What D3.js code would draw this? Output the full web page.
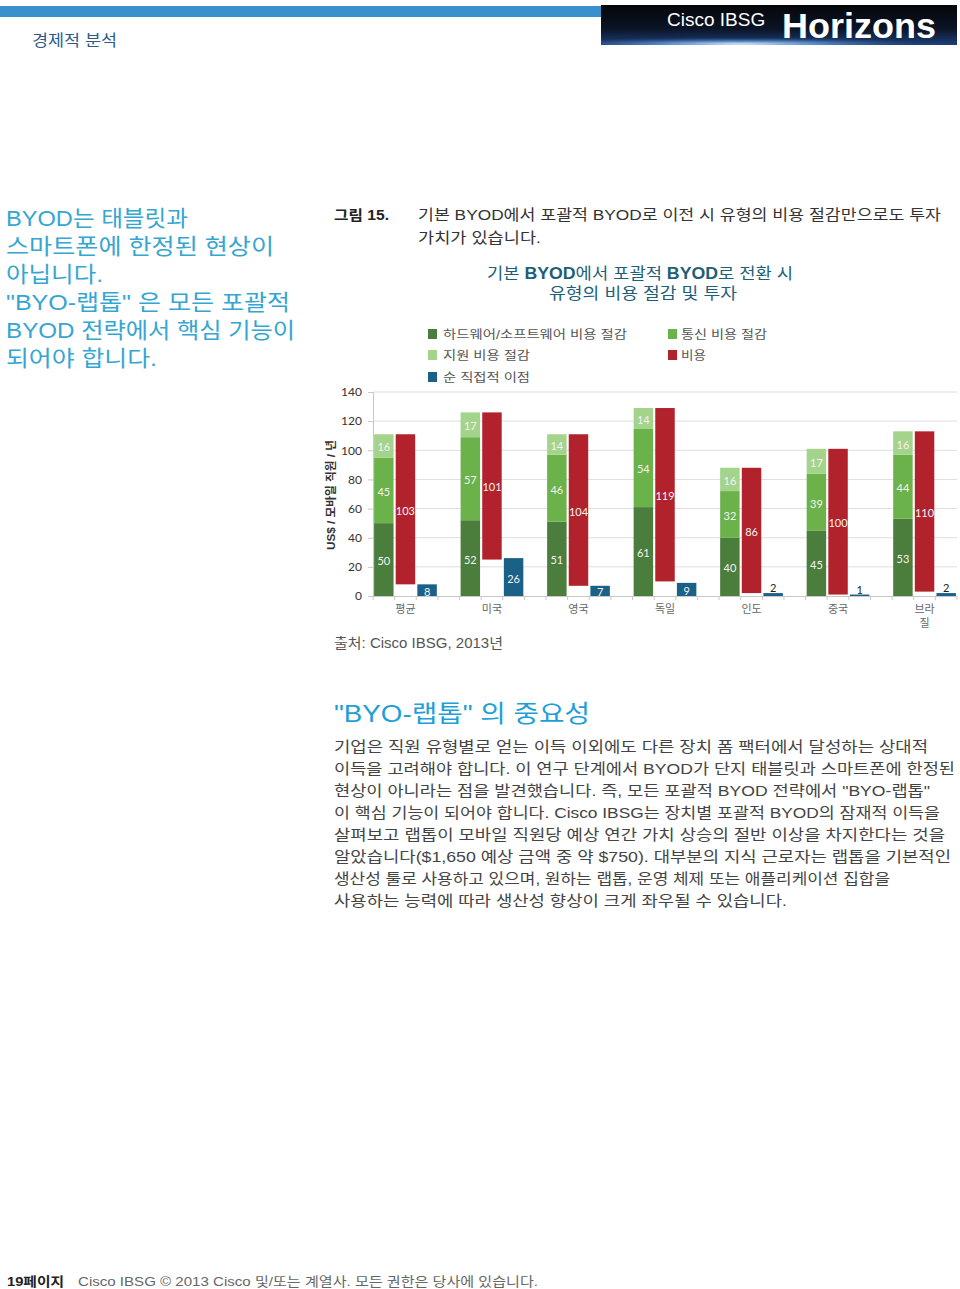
<!DOCTYPE html>
<html><head><meta charset="utf-8">
<script src="https://cdn.jsdelivr.net/npm/d3@7"></script>
<style>
html,body{margin:0;padding:0;background:#fff;}
svg{display:block;}
</style></head>
<body>
<script>
// ---------- DATA ----------
const categories = ["평균","미국","영국","독일","인도","중국","브라질"];
const hwSavings      = [50,52,51,61,40,45,53];
const commSavings    = [45,57,46,54,32,39,44];
const supportSavings = [16,17,14,14,16,17,16];
const costs          = [103,101,104,119,86,100,110];
const netBenefit     = [8,26,7,9,2,1,2];
const yTicks = [0,20,40,60,80,100,120,140];
const legendLabels = ["하드웨어/소프트웨어 비용 절감","통신 비용 절감","지원 비용 절감","비용","순 직접적 이점"];

const colors = {hw:"#4b7d3c", comm:"#6cb24a", sup:"#a4d38c", cost:"#b1222d", net:"#1b6087"};

const KR = "'Liberation Sans','Noto Sans CJK KR',sans-serif";
const CH = "Lato,'Noto Sans CJK KR',sans-serif";

const W=960,H=1289;
const svg = d3.select("body").append("svg").attr("width",W).attr("height",H);
const defs = svg.append("defs");

function txt(x,y,s,o={}){
  const t = svg.append("text").attr("x",x).attr("y",y).text(s)
    .attr("font-family",o.ff||KR).attr("font-size",o.fs||14)
    .attr("fill",o.fill||"#333").attr("font-weight",o.fw||"normal")
    .attr("text-anchor",o.anchor||"start");
  if(o.len){ t.attr("textLength",o.len).attr("lengthAdjust","spacingAndGlyphs"); }
  return t;
}

// ---------- HEADER ----------
svg.append("rect").attr("x",0).attr("y",6).attr("width",601).attr("height",11).attr("fill","#3a8fcd");
const lg = defs.append("linearGradient").attr("id","lg").attr("x1",0).attr("y1",0).attr("x2",0).attr("y2",1);
lg.append("stop").attr("offset","0").attr("stop-color","#050608");
lg.append("stop").attr("offset","0.6").attr("stop-color","#0b1426");
lg.append("stop").attr("offset","1").attr("stop-color","#1d3f78");
svg.append("rect").attr("x",601).attr("y",5).attr("width",356).attr("height",40).attr("fill","url(#lg)");
const rg = defs.append("radialGradient").attr("id","rg");
rg.append("stop").attr("offset","0").attr("stop-color","#e8f2ff").attr("stop-opacity",0.95);
rg.append("stop").attr("offset","0.4").attr("stop-color","#6fa7e8").attr("stop-opacity",0.7);
rg.append("stop").attr("offset","1").attr("stop-color","#1d3f78").attr("stop-opacity",0);
svg.append("clipPath").attr("id","lc").append("rect").attr("x",601).attr("y",5).attr("width",356).attr("height",40);
svg.append("ellipse").attr("cx",740).attr("cy",44).attr("rx",200).attr("ry",7).attr("fill","url(#rg)").attr("clip-path","url(#lc)");
txt(667,26,"Cisco IBSG",{ff:"'Liberation Sans',sans-serif",fs:19,fill:"#fff"});
txt(782,38,"Horizons",{ff:"'Liberation Sans',sans-serif",fs:35,fw:"bold",fill:"#fff",len:154});
txt(32,46,"경제적 분석",{fs:16,fill:"#2d5a86",len:85});

// ---------- SIDEBAR ----------
const side = [["BYOD는 태블릿과",182],["스마트폰에 한정된 현상이",268],["아닙니다.",97],["\"BYO-랩톱\" 은 모든 포괄적",284],["BYOD 전략에서 핵심 기능이",289],["되어야 합니다.",151]];
side.forEach((s,i)=>txt(6,226+i*28,s[0],{fs:22,fill:"#35a6d2",len:s[1]}));

// ---------- CAPTION ----------
txt(334,220,"그림 15.",{fs:14,fill:"#222",fw:"bold",len:55});
txt(418,220,"기본 BYOD에서 포괄적 BYOD로 이전 시 유형의 비용 절감만으로도 투자",{fs:15,fill:"#333",len:523});
txt(418,243,"가치가 있습니다.",{fs:15,fill:"#333",len:123});

// ---------- CHART TITLE ----------
const tc="#1d5f78";
const t1 = svg.append("text").attr("x",640).attr("y",279).attr("text-anchor","middle")
  .attr("font-family",KR).attr("font-size",16).attr("fill",tc).attr("textLength",306).attr("lengthAdjust","spacingAndGlyphs");
t1.append("tspan").text("기본 ");
t1.append("tspan").attr("font-weight","bold").text("BYOD");
t1.append("tspan").text("에서 포괄적 ");
t1.append("tspan").attr("font-weight","bold").text("BYOD");
t1.append("tspan").text("로 전환 시");
txt(643,299,"유형의 비용 절감 및 투자",{fs:16,fill:tc,anchor:"middle",len:188});

// ---------- LEGEND ----------
const legendPos = [[428,334,colors.hw,184],[668,334,colors.comm,86],[428,355,colors.sup,87],[668,355,colors.cost,25],[428,377,colors.net,87]];
legendPos.forEach((p,i)=>{
  svg.append("rect").attr("x",p[0]).attr("y",p[1]-5).attr("width",9).attr("height",10).attr("fill",p[2]);
  txt(p[0]+(p[0]<600?15:13),p[1]+5,legendLabels[i],{fs:12,fill:"#555",len:p[3]});
});

// ---------- PLOT ----------
const y = d3.scaleLinear().domain([0,140]).range([596,392]);
const nSlots = categories.length*4-1;
const x = d3.scaleBand().domain(d3.range(nSlots)).range([373,957]).paddingInner(0.1).paddingOuter(0.05);
const step = (957-373)/nSlots;

// gridlines
svg.append("g").selectAll("line").data(yTicks.filter(d=>d>0)).join("line")
  .attr("x1",373).attr("x2",957).attr("y1",d=>y(d)).attr("y2",d=>y(d))
  .attr("stroke","#dedede").attr("stroke-width",1);

// y axis
const yAxis = svg.append("g").attr("transform","translate(373,0)")
  .call(d3.axisLeft(y).tickValues(yTicks).tickSize(5).tickPadding(6));
yAxis.select(".domain").attr("stroke","#c8c8c8");
yAxis.selectAll(".tick line").attr("stroke","#c8c8c8");
yAxis.selectAll("text").attr("font-family",CH).attr("font-size",12).attr("fill","#333");

txt(0,0,"US$ / 모바일 직원 / 년",{fs:11,fw:"bold",fill:"#333",anchor:"middle",len:110})
  .attr("transform","translate(335,495) rotate(-90)");

// x axis
svg.append("line").attr("x1",373).attr("x2",957).attr("y1",596.5).attr("y2",596.5).attr("stroke","#c8c8c8");
svg.append("g").selectAll("line").data(d3.range(nSlots+1)).join("line")
  .attr("x1",d=>373+d*step).attr("x2",d=>373+d*step).attr("y1",596).attr("y2",600)
  .attr("stroke","#c8c8c8");

const rows = categories.map((c,i)=>({c,i,hw:hwSavings[i],comm:commSavings[i],sup:supportSavings[i],cost:costs[i],net:netBenefit[i],
  total:hwSavings[i]+commSavings[i]+supportSavings[i]}));

const bw = x.bandwidth();
const lab = (gx,gy,v,fill)=>txt(gx,gy,v,{ff:CH,fs:11,fill:fill||"#f4f4f4",anchor:"middle"}).attr("dominant-baseline","central");

rows.forEach(r=>{
  const gX = x(r.i*4), rX = x(r.i*4+1), bX = x(r.i*4+2);
  const segs = [[0,r.hw,colors.hw],[r.hw,r.hw+r.comm,colors.comm],[r.hw+r.comm,r.total,colors.sup]];
  segs.forEach(s=>{
    svg.append("rect").attr("x",gX).attr("width",bw).attr("y",y(s[1])).attr("height",y(s[0])-y(s[1])).attr("fill",s[2]);
    lab(gX+bw/2,(y(s[0])+y(s[1]))/2+1,s[1]-s[0]);
  });
  const cb = r.total-r.cost;
  svg.append("rect").attr("x",rX).attr("width",bw).attr("y",y(r.total)).attr("height",y(cb)-y(r.total)).attr("fill",colors.cost);
  lab(rX+bw/2,(y(cb)+y(r.total))/2+1,r.cost);
  svg.append("rect").attr("x",bX).attr("width",bw).attr("y",y(r.net)).attr("height",y(0)-y(r.net)).attr("fill",colors.net);
  if(r.net>=5) lab(bX+bw/2,(y(0)+y(r.net))/2+1,r.net);
  else txt(bX+bw/2,y(r.net)-1,r.net,{ff:CH,fs:11,fill:"#222",anchor:"middle"});
  // category label
  const c = r.c;
  const lines = c.length>2 ? [c.slice(0,2),c.slice(2)] : [c];
  lines.forEach((l,k)=>txt(rX+bw/2,613+k*14,l,{fs:11,fill:"#666",anchor:"middle"}));
});

// source
txt(334,648,"출처: Cisco IBSG, 2013년",{fs:14,fill:"#555",len:169});

// ---------- SECTION ----------
txt(334,722,"\"BYO-랩톱\" 의 중요성",{fs:24,fill:"#1ea0d6",len:256});
const para = [
 ["기업은 직원 유형별로 얻는 이득 이외에도 다른 장치 폼 팩터에서 달성하는 상대적",594],
 ["이득을 고려해야 합니다. 이 연구 단계에서 BYOD가 단지 태블릿과 스마트폰에 한정된",621],
 ["현상이 아니라는 점을 발견했습니다. 즉, 모든 포괄적 BYOD 전략에서 \"BYO-랩톱\"",596],
 ["이 핵심 기능이 되어야 합니다. Cisco IBSG는 장치별 포괄적 BYOD의 잠재적 이득을",606],
 ["살펴보고 랩톱이 모바일 직원당 예상 연간 가치 상승의 절반 이상을 차지한다는 것을",611],
 ["알았습니다($1,650 예상 금액 중 약 $750). 대부분의 지식 근로자는 랩톱을 기본적인",617],
 ["생산성 툴로 사용하고 있으며, 원하는 랩톱, 운영 체제 또는 애플리케이션 집합을",556],
 ["사용하는 능력에 따라 생산성 향상이 크게 좌우될 수 있습니다.",453]
];
para.forEach((p,i)=>txt(334,752+i*22,p[0],{fs:15,fill:"#444",len:p[1]}));

// ---------- FOOTER ----------
txt(7,1286,"19페이지",{fs:13,fill:"#222",fw:"bold",len:57});
txt(78,1286,"Cisco IBSG © 2013 Cisco 및/또는 계열사. 모든 권한은 당사에 있습니다.",{fs:13,fill:"#666",len:460});
</script>
</body></html>
